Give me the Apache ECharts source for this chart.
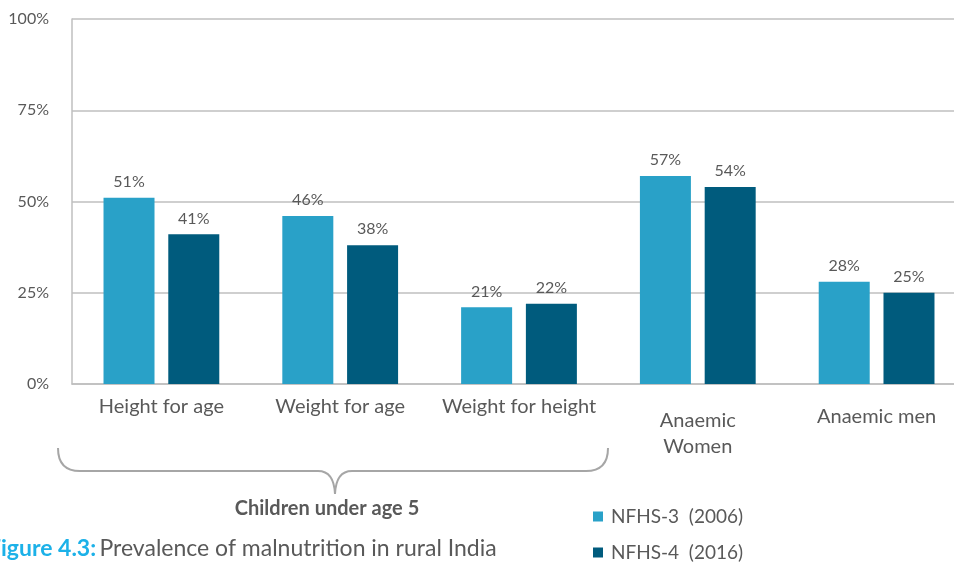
<!DOCTYPE html>
<html>
<head>
<meta charset="utf-8">
<script src="https://cdn.jsdelivr.net/npm/echarts@6/dist/echarts.min.js"></script>
<style>
  html, body { margin: 0; padding: 0; background: #fff; }
  #chart { width: 954px; height: 563px; }
</style>
</head>
<body>
<div id="chart"></div>
<script>
// Malnutrition indicators, rural India, NFHS rounds
const categories = ['Height for age', 'Weight for age', 'Weight for height', 'Anaemic\nWomen', 'Anaemic men'];
const nfhs3 = [51, 46, 21, 57, 28];
const nfhs4 = [41, 38, 22, 54, 25];
const seriesNames = ['NFHS-3  (2006)', 'NFHS-4  (2016)'];

const FONT = 'Lato, "Open Sans", sans-serif';
const TEXT = '#595959';
const LIGHT = '#29A1C8';
const DARK = '#005B7D';
const BRACE = { stroke: '#a6a6a6', lineWidth: 2, fill: 'none' };

const chart = echarts.init(document.getElementById('chart'));

const barLabel = {
  show: true,
  position: 'top',
  distance: 8,
  color: TEXT,
  fontFamily: FONT,
  fontSize: 16,
  formatter: p => p.value + '%'
};

// curly brace grouping the three child indicators
function bez(x1, y1, cx, cy, x2, y2) {
  return { type: 'bezierCurve', shape: { x1, y1, cpx1: cx, cpy1: cy, x2, y2 }, style: BRACE, silent: true };
}
function seg(x1, y1, x2, y2) {
  return { type: 'line', shape: { x1, y1, x2, y2 }, style: BRACE, silent: true };
}
const brace = [
  bez(58, 448, 58, 471, 80, 471),
  seg(80, 471, 318, 471),
  bez(318, 471, 334, 471, 335, 494),
  bez(335, 494, 336, 471, 352, 471),
  seg(352, 471, 586, 471),
  bez(586, 471, 608, 471, 608, 448)
];

const legendBase = {
  left: 588,
  itemWidth: 10,
  itemHeight: 10,
  icon: 'rect',
  selectedMode: false,
  textStyle: { color: TEXT, fontFamily: FONT, fontSize: 19, padding: [0, 0, 0, 3] }
};

chart.setOption({
  animation: false,
  textStyle: { fontFamily: FONT },
  grid: {
    left: 72, top: 19, right: -12, bottom: 179,
    containLabel: false,
    outerBoundsMode: 'none'
  },
  legend: [
    Object.assign({ top: 502, data: [seriesNames[0]] }, legendBase),
    Object.assign({ top: 538, data: [seriesNames[1]] }, legendBase)
  ],
  xAxis: {
    type: 'category',
    data: categories,
    axisLine: { lineStyle: { color: '#bfbfbf', width: 1.5 } },
    axisTick: { show: false },
    axisLabel: {
      margin: 12,
      interval: 0,
      color: TEXT,
      fontFamily: FONT,
      fontSize: 20,
      formatter: (v, i) => {
        if (i === 3) return '{w|Anaemic}\n{w|Women}';
        if (i === 4) return '{m|' + v + '}';
        return '{n|' + v + '}';
      },
      rich: {
        n: { fontSize: 20, color: TEXT, fontFamily: FONT, lineHeight: 22 },
        w: { fontSize: 20, color: TEXT, fontFamily: FONT, lineHeight: 26, padding: [23, 0, 0, 0] },
        m: { fontSize: 20, color: TEXT, fontFamily: FONT, lineHeight: 22, padding: [20, 0, 0, 0] }
      }
    }
  },
  yAxis: {
    type: 'value',
    min: 0,
    max: 100,
    interval: 25,
    axisLine: { show: true, lineStyle: { color: '#bfbfbf', width: 1.5 } },
    axisTick: { show: false },
    splitLine: { lineStyle: { color: '#bfbfbf', width: 1.5 } },
    axisLabel: {
      margin: 23,
      color: TEXT,
      fontFamily: FONT,
      fontSize: 16,
      formatter: v => v + '%'
    }
  },
  series: [
    {
      name: seriesNames[0],
      type: 'bar',
      data: nfhs3,
      barWidth: 51,
      barGap: '27%',
      itemStyle: { color: LIGHT },
      label: barLabel
    },
    {
      name: seriesNames[1],
      type: 'bar',
      data: nfhs4,
      barWidth: 51,
      barGap: '27%',
      itemStyle: { color: DARK },
      label: barLabel
    }
  ],
  graphic: brace.concat([
    {
      type: 'text',
      x: 327,
      y: 509,
      style: {
        text: 'Children under age 5',
        fill: TEXT,
        fontFamily: FONT,
        fontSize: 20,
        fontWeight: 'bold',
        align: 'center',
        verticalAlign: 'middle'
      }
    },
    {
      type: 'text',
      x: -12,
      y: 549,
      style: {
        text: '{c|Figure 4.3:} {t|Prevalence of malnutrition in rural India}',
        verticalAlign: 'middle',
        rich: {
          c: { fill: '#1CB1E8', fontFamily: FONT, fontSize: 23, fontWeight: 'bold' },
          t: { fill: TEXT, fontFamily: FONT, fontSize: 23 }
        }
      }
    }
  ])
});
</script>
</body>
</html>
